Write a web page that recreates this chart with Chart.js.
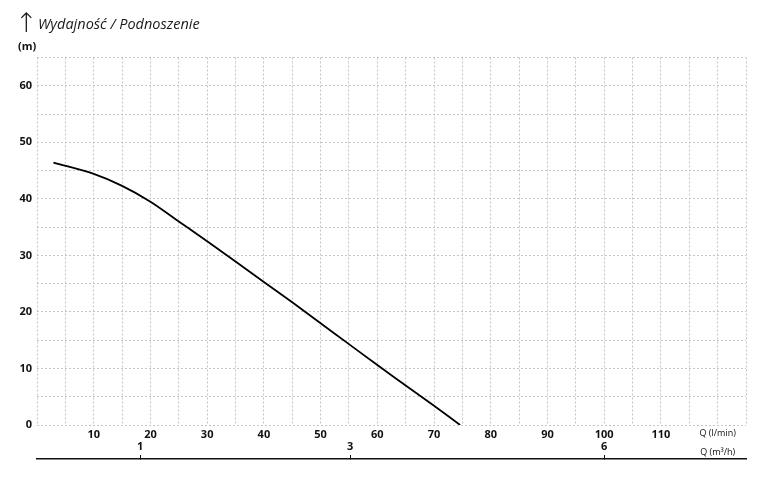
<!DOCTYPE html>
<html>
<head>
<meta charset="utf-8">
<script src="https://cdn.jsdelivr.net/npm/chart.js@4/dist/chart.umd.min.js"></script>
<style>
  html, body { margin: 0; padding: 0; background: #fff; }
  #wrap { position: relative; width: 773px; height: 482px; }
  #hdr .arr {
    position: absolute; left: 15px; top: 9px;
    font: 200 27px/27px "DejaVu Sans", sans-serif; color: #1a1a1a;
  }
  #hdr .txt {
    position: absolute; left: 38px; top: 17px; white-space: nowrap;
    font: italic 14.5px/14px "Open Sans", "Noto Sans", sans-serif; color: #1a1a1a;
  }
</style>
</head>
<body>
<div id="wrap">
  <div id="hdr"><span class="arr">↑</span><span class="txt">Wydajność / Podnoszenie</span></div>
  <canvas id="pump"></canvas>
</div>
<script>
// Krzywa pompy: wydajność Q (l/min) / podnoszenie H (m)
const flowLmin = [2.9, 10, 15, 20, 25, 30, 35, 40, 45, 50, 55, 60, 65, 70, 74.6];
const headM    = [46.4, 44.4, 42.3, 39.5, 36.0, 32.5, 28.9, 25.3, 21.7, 18.0, 14.3, 10.6, 7.0, 3.4, 0];

const lminLabels = [10, 20, 30, 40, 50, 60, 70, 80, 90, 100, 110];
const headLabels = [0, 10, 20, 30, 40, 50, 60];
const m3hLabels  = ["1", "3", "6"];
const m3hAtLmin  = [18.2, 55.2, 100];   // where the m³/h marks sit on the l/min scale
const unitAt     = 120;                 // column used for the "Q (...)" unit labels

const FONT = "'Open Sans', 'Noto Sans', sans-serif";
const bold = { family: FONT, size: 11, weight: "bold" };
const small = { family: FONT, size: 9, weight: "normal" };
const GRID = "#c6c6c6";

const isUnit = (ctx) => ctx.tick && ctx.tick.value === unitAt;

new Chart(document.getElementById("pump"), {
  type: "line",
  data: {
    datasets: [{
      data: flowLmin.map((q, i) => ({ x: q, y: headM[i] })),
      borderColor: "#000",
      borderWidth: 1.8,
      pointRadius: 0,
      tension: 0.4,
      cubicInterpolationMode: "monotone",
      fill: false,
      xAxisID: "x",
      yAxisID: "y",
    }],
  },
  options: {
    responsive: true,
    maintainAspectRatio: false,
    animation: false,
    events: [],
    layout: { padding: { left: 18, right: 27, top: 31, bottom: 0 } },
    plugins: {
      legend: { display: false },
      tooltip: { enabled: false },
      title: { display: false },
      subtitle: {
        display: true,
        text: "(m)",
        align: "start",
        color: "#111",
        font: bold,
        padding: { top: 8.8, bottom: 4.5 },
      },
    },
    scales: {
      x: {
        type: "linear",
        position: "bottom",
        min: 0,
        max: 125,
        afterFit: (s) => { s.height = 34; },
        grid: { color: GRID, lineWidth: 1, drawTicks: false },
        border: { display: false, dash: [2, 2] },
        ticks: {
          stepSize: 5,
          autoSkip: false,
          maxRotation: 0,
          padding: 3,
          color: "#111",
          font: (ctx) => (isUnit(ctx) ? small : bold),
          callback: (v) => (v === unitAt ? "Q (l/min)" : lminLabels.includes(v) ? String(v) : ""),
        },
      },
      x2: {
        type: "linear",
        position: "bottom",
        min: 0,
        max: 125,
        afterBuildTicks: (s) => {
          s.ticks = m3hAtLmin.map((v) => ({ value: v })).concat([{ value: unitAt }]);
        },
        afterFit: (s) => { s.height = 23; },
        grid: {
          drawOnChartArea: false,
          drawTicks: true,
          tickLength: -4,
          tickWidth: 1,
          color: (ctx) => (isUnit(ctx) ? "rgba(0,0,0,0)" : "#111"),
        },
        border: { display: true, color: "#111", width: 1.5 },
        ticks: {
          mirror: true,
          padding: 6,
          autoSkip: false,
          maxRotation: 0,
          color: "#111",
          font: (ctx) => (isUnit(ctx) ? { ...small, lineHeight: "1px" } : bold),
          callback: (v, i) => (i < m3hLabels.length ? m3hLabels[i] : "Q (m³/h)"),
        },
      },
      y: {
        type: "linear",
        position: "left",
        min: 0,
        max: 65,
        afterFit: (s) => { s.width = 19; },
        grid: { color: GRID, lineWidth: 1, drawTicks: false },
        border: { display: false, dash: [2, 2] },
        ticks: {
          stepSize: 5,
          autoSkip: false,
          padding: 5,
          color: "#111",
          font: bold,
          callback: (v) => (headLabels.includes(v) ? String(v) : ""),
        },
      },
    },
  },
});
</script>
</body>
</html>
